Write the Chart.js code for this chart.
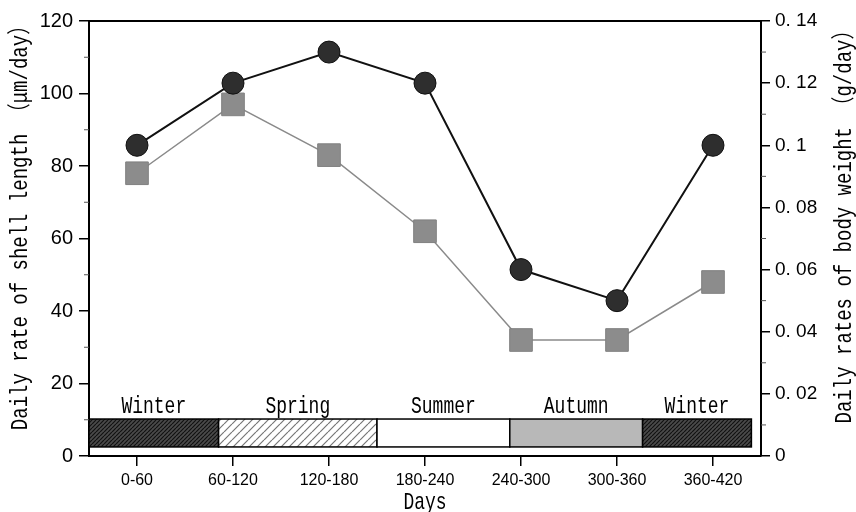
<!DOCTYPE html>
<html>
<head>
<meta charset="utf-8">
<script src="https://cdn.jsdelivr.net/npm/chart.js@4"></script>
<style>
  html, body { margin: 0; padding: 0; background: #fff; }
</style>
</head>
<body>
<canvas id="growthChart" width="856" height="512"></canvas>
<script>
const dayClasses = ['0-60', '60-120', '120-180', '180-240', '240-300', '300-360', '360-420'];
const bodyWeightRate = [0.10, 0.12, 0.13, 0.12, 0.06, 0.05, 0.10];   // g/day, circles
const shellLengthRate = [78, 97, 83, 62, 32, 32, 48];                 // um/day, squares

const leftTickLabels = ['0', '20', '40', '60', '80', '100', '120'];
const rightTickLabels = ['0', '0. 02', '0. 04', '0. 06', '0. 08', '0. 1', '0. 12', '0. 14'];

const seasonNames = ['Winter', 'Spring', 'Summer', 'Autumn', 'Winter'];
const seasonStart = [0, 81, 180, 263, 346];
const seasonEnd = [81, 180, 263, 346, 414];

const ctx = document.getElementById('growthChart');

function hatch(bg, line, gap, width) {
  const c = document.createElement('canvas');
  c.width = gap; c.height = gap;
  const g = c.getContext('2d');
  g.fillStyle = bg;
  g.fillRect(0, 0, gap, gap);
  g.strokeStyle = line;
  g.lineWidth = width;
  g.beginPath();
  for (let k = -1; k <= 1; k++) {
    g.moveTo(k * gap, gap);
    g.lineTo(k * gap + gap, 0);
  }
  g.stroke();
  return g.createPattern(c, 'repeat');
}

const seasonFills = [
  hatch('#4a4a4a', '#111', 4, 1.2),
  hatch('#fff', '#777', 8, 1.2),
  '#fff',
  '#b8b8b8',
  hatch('#4a4a4a', '#111', 4, 1.2)
];

const monoFont = "'Liberation Mono', 'Noto Sans CJK JP', monospace";

function tallText(c, text, x, y, rot, stretch) {
  c.save();
  c.translate(x, y);
  c.rotate(rot);
  c.scale(1, stretch);
  c.fillText(text, 0, 0);
  c.restore();
}

const decor = {
  id: 'decor',
  beforeDatasetsDraw(chart) {
    const c = chart.ctx;
    const area = chart.chartArea;
    const days = chart.scales.days;
    const yL = chart.scales.yL;
    const yR = chart.scales.yR;
    const bandTop = yL.getPixelForValue(10.2);
    const bandBot = yL.getPixelForValue(2.5);

    c.save();
    // season band
    for (let i = 0; i < seasonNames.length; i++) {
      const x0 = days.getPixelForValue(seasonStart[i]);
      const x1 = days.getPixelForValue(seasonEnd[i]);
      c.fillStyle = seasonFills[i];
      c.fillRect(x0, bandTop, x1 - x0, bandBot - bandTop);
      c.strokeStyle = '#000';
      c.lineWidth = 1.5;
      c.strokeRect(x0, bandTop, x1 - x0, bandBot - bandTop);
      c.fillStyle = '#000';
      c.font = '18px ' + monoFont;
      c.textAlign = 'center';
      c.textBaseline = 'alphabetic';
      tallText(c, seasonNames[i], (x0 + x1) / 2, bandTop - 6, 0, 1.35);
    }

    // top frame line
    c.strokeStyle = '#000';
    c.lineWidth = 2;
    c.beginPath();
    c.moveTo(area.left, area.top);
    c.lineTo(area.right, area.top);
    c.stroke();

    // minor ticks
    c.lineWidth = 1;
    c.strokeStyle = '#555';
    c.beginPath();
    for (let v = 10; v < 120; v += 20) {
      const y = yL.getPixelForValue(v);
      c.moveTo(area.left - 5, y);
      c.lineTo(area.left, y);
    }
    for (let v = 0.01; v < 0.14; v += 0.02) {
      const y = yR.getPixelForValue(v);
      c.moveTo(area.right, y);
      c.lineTo(area.right + 5, y);
    }
    c.stroke();

    // axis titles
    c.fillStyle = '#000';
    c.font = '19px ' + monoFont;
    c.textAlign = 'center';
    c.textBaseline = 'middle';
    tallText(c, 'Daily rate of shell length （μm/day）', 21, 223, -Math.PI / 2, 1.25);
    tallText(c, 'Daily rates of body weight （g/day）', 845, 222, -Math.PI / 2, 1.25);

    // x axis title
    c.font = '18px ' + monoFont;
    c.textBaseline = 'alphabetic';
    tallText(c, 'Days', (area.left + area.right) / 2, 509, 0, 1.3);
    c.restore();
  }
};

new Chart(ctx, {
  type: 'line',
  data: {
    labels: dayClasses,
    datasets: [
      {
        label: 'Body weight',
        data: bodyWeightRate,
        yAxisID: 'yR',
        borderColor: '#111',
        borderWidth: 2,
        pointStyle: 'circle',
        pointRadius: 11,
        pointBackgroundColor: '#2e2e2e',
        pointBorderColor: '#111',
        pointBorderWidth: 1,
        tension: 0
      },
      {
        label: 'Shell length',
        data: shellLengthRate,
        yAxisID: 'yL',
        borderColor: '#8a8a8a',
        borderWidth: 1.5,
        pointStyle: 'rect',
        pointRadius: 16,
        pointBackgroundColor: '#8c8c8c',
        pointBorderColor: '#808080',
        pointBorderWidth: 1,
        tension: 0
      }
    ]
  },
  options: {
    responsive: false,
    animation: false,
    events: [],
    layout: { padding: { top: 21, left: 0, right: 0, bottom: 0 } },
    plugins: {
      legend: { display: false },
      tooltip: { enabled: false }
    },
    scales: {
      x: {
        type: 'category',
        offset: true,
        afterFit: (s) => { s.height = 56; },
        border: { color: '#000', width: 2 },
        grid: { drawOnChartArea: false, offset: false, tickLength: 10, color: '#000', lineWidth: 1.5 },
        ticks: {
          color: '#000',
          padding: 5,
          maxRotation: 0,
          font: { family: "'Liberation Sans'", size: 16 }
        }
      },
      days: {
        type: 'linear',
        axis: 'x',
        display: false,
        min: 0,
        max: 420
      },
      yL: {
        type: 'linear',
        position: 'left',
        min: 0,
        max: 120,
        afterFit: (s) => { s.width = 89; },
        border: { color: '#000', width: 2 },
        grid: { drawOnChartArea: false, tickLength: 10, color: '#000', lineWidth: 1.5 },
        ticks: {
          stepSize: 20,
          color: '#000',
          padding: 6,
          font: { family: "'Liberation Sans'", size: 20 },
          callback: (v, i) => leftTickLabels[i]
        }
      },
      yR: {
        type: 'linear',
        position: 'right',
        min: 0,
        max: 0.14,
        afterFit: (s) => { s.width = 95; },
        border: { color: '#000', width: 2 },
        grid: { drawOnChartArea: false, tickLength: 9, color: '#000', lineWidth: 1.5 },
        ticks: {
          stepSize: 0.02,
          color: '#000',
          padding: 5,
          font: { family: "'Liberation Sans'", size: 19 },
          callback: (v, i) => rightTickLabels[i]
        }
      }
    }
  },
  plugins: [decor]
});
</script>
</body>
</html>
